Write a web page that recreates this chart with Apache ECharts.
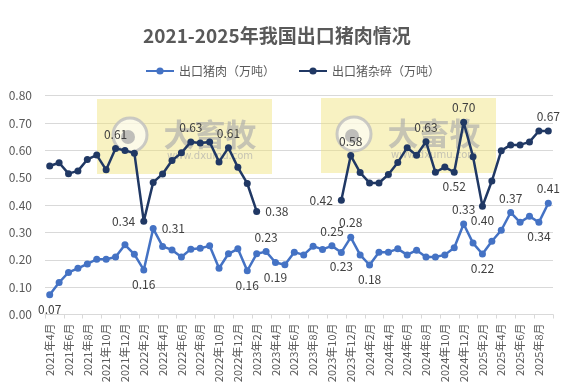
<!DOCTYPE html>
<html>
<head>
<meta charset="utf-8">
<script src="https://cdn.jsdelivr.net/npm/echarts@6/dist/echarts.min.js"></script>
<style>html,body{margin:0;padding:0;background:#fff;}#c{width:585px;height:390px;}</style>
</head>
<body>
<div id="c"></div>
<script>
const months = ["2021年4月","2021年5月","2021年6月","2021年7月","2021年8月","2021年9月","2021年10月","2021年11月","2021年12月",
"2022年1月","2022年2月","2022年3月","2022年4月","2022年5月","2022年6月","2022年7月","2022年8月","2022年9月","2022年10月","2022年11月","2022年12月",
"2023年1月","2023年2月","2023年3月","2023年4月","2023年5月","2023年6月","2023年7月","2023年8月","2023年9月","2023年10月","2023年11月","2023年12月",
"2024年1月","2024年2月","2024年3月","2024年4月","2024年5月","2024年6月","2024年7月","2024年8月","2024年9月","2024年10月","2024年11月","2024年12月",
"2025年1月","2025年2月","2025年3月","2025年4月","2025年5月","2025年6月","2025年7月","2025年8月","2025年9月"];

const porkExport = [0.072,0.117,0.154,0.169,0.185,0.202,0.202,0.210,0.255,
0.220,0.163,0.314,0.249,0.236,0.210,0.239,0.242,0.251,0.169,0.222,0.240,
0.160,0.222,0.230,0.190,0.182,0.228,0.218,0.250,0.238,0.251,0.227,0.282,
0.218,0.181,0.228,0.228,0.240,0.218,0.235,0.210,0.210,0.218,0.244,0.331,
0.261,0.221,0.268,0.308,0.373,0.337,0.359,0.337,0.407];

const offalExport = [0.543,0.555,0.515,0.525,0.567,0.583,0.529,0.607,0.600,
0.590,0.341,0.483,0.514,0.563,0.591,0.631,0.627,0.631,0.558,0.610,0.538,
0.479,0.377,null,null,null,null,null,null,null,null,0.418,0.581,
0.519,0.481,0.481,0.512,0.556,0.610,0.582,0.632,0.520,0.539,0.520,0.703,
0.577,0.396,0.488,0.599,0.620,0.620,0.631,0.671,0.671];

const seriesNames = ["出口猪肉（万吨）","出口猪杂碎（万吨）"];
const titleText = "2021-2025年我国出口猪肉情况";

// label placement (index -> [position, offset])
const porkLabels = {0:['bottom',[0,-2]],10:['bottom',[0,0]],11:['right',[-8,-3]],21:['bottom',[0,0]],23:['top',[0,0]],24:['bottom',[0,0]],
  30:['top',[0,0]],31:['bottom',[0,0]],32:['top',[0,0]],34:['bottom',[0,0]],44:['top',[0,0]],46:['bottom',[0,0]],
  49:['top',[0,0]],52:['bottom',[0,0]],53:['top',[0,0]]};
const offalLabels = {7:['top',[0,0]],10:['left',[0,0]],15:['top',[0,0]],19:['top',[0,0]],22:['right',[0,0]],
  31:['left',[6,5]],32:['top',[0,0]],40:['top',[0,0]],43:['bottom',[0,0]],44:['top',[0,0]],46:['bottom',[7,-6]],53:['top',[0,0]]};

function buildData(vals, labels){
  return vals.map((v,i)=>{
    if (v === null) return null;
    const l = labels[i];
    if (!l) return {value: v};
    return {value: v, label: {show: true, position: l[0], offset: l[1]}};
  });
}

const chart = echarts.init(document.getElementById('c'), null, {renderer:'canvas'});
const fontFam = '"Noto Sans CJK SC", "Noto Sans", sans-serif';
const labelStyle = {show:false, formatter: p => p.value.toFixed(2), color:'#404040', fontSize:12, fontFamily: fontFam};

function watermark(x, y){
  return [
    {type:'rect', z:1, shape:{x:x, y:y, width:175, height:75}, style:{fill:'rgba(240,226,120,0.45)'}},
    {type:'circle', z:1, shape:{cx:x+33, cy:y+36, r:17}, style:{fill:'rgba(255,255,255,0.6)', stroke:'rgba(190,190,190,0.8)', lineWidth:3}},
    {type:'circle', z:1, shape:{cx:x+31, cy:y+38, r:7}, style:{fill:'rgba(175,175,175,0.8)'}},
    {type:'text', z:1, style:{x:x+113, y:y+35, text:'大畜牧', fill:'rgba(170,170,170,0.65)', font:'bold 31px "Noto Sans CJK SC"', textAlign:'center', textVerticalAlign:'middle'}},
    {type:'text', z:1, style:{x:x+113, y:y+57, text:'www.dxumu.com', fill:'rgba(170,170,170,0.65)', font:'10px "DejaVu Sans"', textAlign:'center', textVerticalAlign:'middle'}}
  ];
}

chart.setOption({
  animation:false,
  backgroundColor:'#ffffff',
  title:{text:titleText, left:138, top:21, textStyle:{fontSize:19, fontWeight:'bold', color:'#595959', fontFamily: fontFam}},
  legend:{left:140, top:60, itemWidth:28, itemHeight:9, itemGap:23,
    textStyle:{fontSize:12, color:'#595959', fontFamily: fontFam}, data: seriesNames},
  grid:{left:45, right:32, top:95.7, bottom:75.5, containLabel:false},
  xAxis:{type:'category', data: months, boundaryGap:true,
    axisLine:{lineStyle:{color:'#d9d9d9'}},
    axisTick:{show:true, interval:1, length:4, lineStyle:{color:'#d9d9d9'}},
    axisLabel:{interval:1, rotate:90, fontSize:11, color:'#595959', margin:9, fontFamily: fontFam}},
  yAxis:{type:'value', min:0, max:0.8, interval:0.1,
    axisLine:{show:false}, axisTick:{show:false},
    splitLine:{lineStyle:{color:'#d9d9d9'}},
    axisLabel:{formatter: v => v.toFixed(2), fontSize:12, color:'#595959', margin:13, fontFamily: fontFam}},
  graphic:{elements: watermark(97, 99).concat(watermark(321, 98))},
  series:[
    {name: seriesNames[0], type:'line', data: buildData(porkExport, porkLabels), connectNulls:false,
      symbol:'circle', symbolSize:7, showAllSymbol:true, z:3,
      lineStyle:{color:'#4472c4', width:2.5}, itemStyle:{color:'#4472c4'}, label: labelStyle,
      labelLayout:{hideOverlap:false}},
    {name: seriesNames[1], type:'line', data: buildData(offalExport, offalLabels), connectNulls:false,
      symbol:'circle', symbolSize:7, showAllSymbol:true, z:3,
      lineStyle:{color:'#203864', width:2.5}, itemStyle:{color:'#203864'}, label: labelStyle,
      labelLayout:{hideOverlap:false}}
  ]
});
</script>
</body>
</html>
